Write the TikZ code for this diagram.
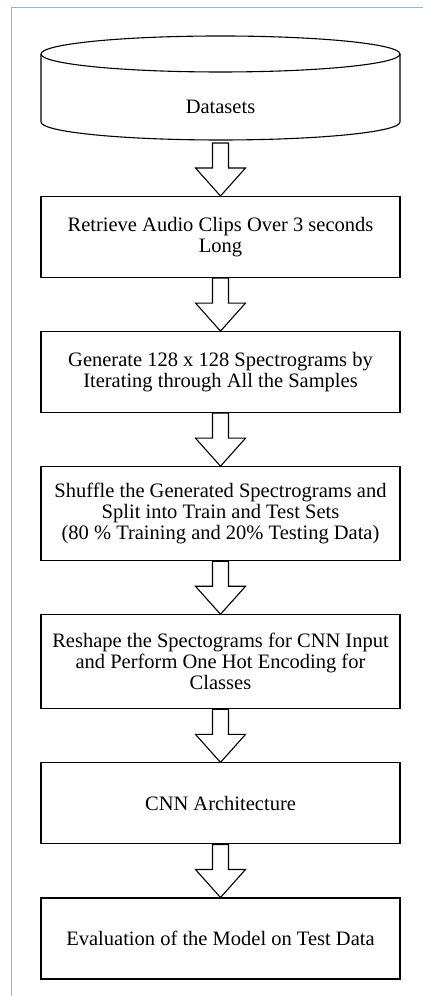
\documentclass[tikz,border=0pt]{standalone}
\usepackage{fontspec}
\setmainfont{Liberation Serif}
\usetikzlibrary{positioning,calc}

\definecolor{framblue}{RGB}{141,179,226}

\tikzset{
  stepbox/.style={draw=black, line width=1.1pt, minimum width=359pt, minimum height=81pt,
    inner sep=0pt, align=center, font=\fontsize{20.5}{21}\selectfont},
  fatarr/.style={draw=black, line width=1.1pt, fill=white, line join=miter},
}

% block arrow from one node to the next
\newcommand{\fatarrow}[2]{%
  \draw[fatarr] ($(#1)+(-8,0)$) -- ($(#1)+(-8,-25)$) -- ($(#1)+(-25,-25)$) -- (#2)
    -- ($(#1)+(25,-25)$) -- ($(#1)+(8,-25)$) -- ($(#1)+(8,0)$) -- cycle;}

\begin{document}
\begin{tikzpicture}[x=1pt,y=1pt]
    \useasboundingbox (0,0) rectangle (423,996);

    % frame
    \draw[framblue, line width=1pt] (11.5,0) -- (11.5,988) -- (423,988);

    % datasets cylinder
    \draw[line width=1.1pt] (220.5,942) ellipse [x radius=179.5, y radius=18];
    \draw[line width=1.1pt] (41,942) -- (41,874)
        arc [start angle=180, end angle=360, x radius=179.5, y radius=18] -- (400,942);
    \node[font=\fontsize{20.5}{21}\selectfont] (data) at (220.5,889) {Datasets};
    \coordinate (dbbot) at (220.5,853);

    \node[stepbox, below=53pt of dbbot] (retr) {Retrieve Audio Clips Over 3 seconds\\Long};
    \node[stepbox, below=53pt of retr] (spec) {Generate 128 x 128 Spectrograms by\\Iterating through All the Samples};
    \node[stepbox, below=53pt of spec, minimum height=94pt] (split) {Shuffle the Generated Spectrograms and\\Split into Train and Test Sets\\(80 \% Training and 20\% Testing Data)};
    \node[stepbox, below=53pt of split, minimum height=94pt] (shape) {Reshape the Spectograms for CNN Input\\and Perform One Hot Encoding for\\Classes};
    \node[stepbox, below=53pt of shape] (cnn) {CNN Architecture};
    \node[stepbox, below=53pt of cnn] (eval) {Evaluation of the Model on Test Data};

    \fatarrow{dbbot}{retr.north}
    \fatarrow{retr.south}{spec.north}
    \fatarrow{spec.south}{split.north}
    \fatarrow{split.south}{shape.north}
    \fatarrow{shape.south}{cnn.north}
    \fatarrow{cnn.south}{eval.north}
\end{tikzpicture}
\end{document}
